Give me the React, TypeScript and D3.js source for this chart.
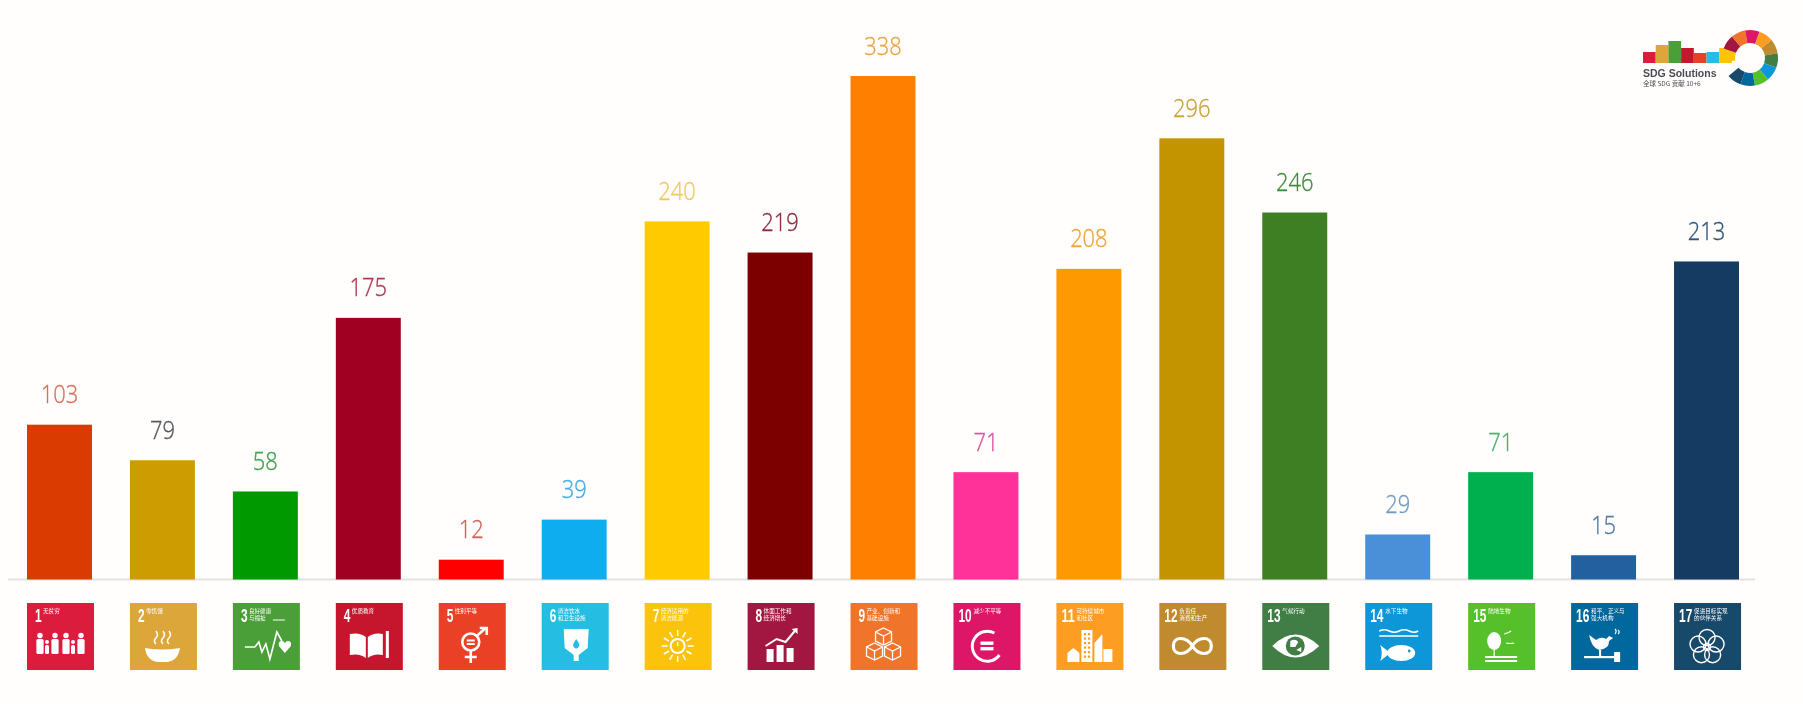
import React from 'react';
import * as d3 from 'd3';

const goals = d3.range(1, 18);
const counts = [103, 79, 58, 175, 12, 39, 240, 219, 338, 71, 208, 296, 246, 29, 71, 15, 213];
const barColors = ['#d93a00', '#cc9c00', '#009a00', '#a00020', '#ff0000', '#0eadef', '#ffcb00', '#7b0000', '#ff8000', '#ff3399', '#ff9900', '#c49300', '#3e7f23', '#4a90d9', '#00b050', '#2260a0', '#163a63'];
const labelColors = ['#d9705c', '#55585c', '#3ea34a', '#a83a50', '#d9605a', '#45ade2', '#f2c766', '#8a2e40', '#eca545', '#d9559f', '#eca53a', '#c9a238', '#3f8a3c', '#6f9cc4', '#45b368', '#5578a4', '#2f5578'];
const iconColors = ['#dc1f3c', '#dda63a', '#4c9f38', '#c5192d', '#ea4127', '#26bde2', '#fcc30b', '#a21942', '#f0742b', '#dd1367', '#fd9d24', '#bf8b2e', '#3f7e44', '#0a97d9', '#56c02b', '#00689d', '#19486a'];
const iconTitles = [
  ['无贫穷'], ['零饥饿'], ['良好健康', '与福祉'], ['优质教育'], ['性别平等'],
  ['清洁饮水', '和卫生设施'], ['经济适用的', '清洁能源'], ['体面工作和', '经济增长'], ['产业、创新和', '基础设施'],
  ['减少不平等'], ['可持续城市', '和社区'], ['负责任', '消费和生产'], ['气候行动'], ['水下生物'], ['陆地生物'],
  ['和平、正义与', '强大机构'], ['促进目标实现', '的伙伴关系'],
];
const logoBarGoals = [0, 1, 2, 3, 4, 5, 6];
const logoBarHeights = [11, 18, 22, 15, 10, 11, 15];
const logoRingGoals = [6, 7, 8, 9, 10, 11, 12, 13, 14, 15, 16];

const WIDTH = 1803;
const HEIGHT = 704;
const BASELINE = 579.5;
const ICON_Y = 603;
const ICON_SIZE = 67;

const x = d3.scaleBand<number>().domain(goals).range([27, 1739]).paddingInner(0.369);
const y = d3.scaleLinear().domain([0, 338]).range([577.5, 76]);

const people = [
  [13, 0], [20, 1], [28, 0], [39, 0], [46, 1], [54, 0],
];

const cube = (cx: number, cy: number, fill: string) => (
  <g stroke="#fff" strokeWidth={1.3} fill={fill}>
    <path d={`M${cx},${cy - 8} L${cx + 8},${cy - 4} V${cy + 5} L${cx},${cy + 9} L${cx - 8},${cy + 5} V${cy - 4} Z`} />
    <path d={`M${cx - 8},${cy - 4} L${cx},${cy} L${cx + 8},${cy - 4} M${cx},${cy} V${cy + 9}`} fill="none" />
  </g>
);

// white pictograms on the goal squares, local 67px box
const glyph = (i: number, c: string) => {
  switch (i) {
    case 0:
      return (
        <g fill="#fff">
          {people.map(([px, kid], k) => (
            <g key={k}>
              <circle cx={px} cy={kid ? 39 : 32.5} r={kid ? 2 : 2.7} />
              <rect x={px - (kid ? 2 : 3.6)} y={kid ? 42 : 36} width={kid ? 4 : 7.2} height={kid ? 9 : 15} rx={1.5} />
            </g>
          ))}
        </g>
      );
    case 1:
      return (
        <g>
          <path d="M15,45 Q32,48 50,45 Q48,58 37,59 H28 Q17,58 15,45 Z" fill="#fff" />
          {[26, 33, 39].map((sx) => (
            <path key={sx} d={`M${sx},41 q-3,-3 0,-6 q3,-3 0,-7`} fill="none" stroke="#fff" strokeWidth={1.5} />
          ))}
        </g>
      );
    case 2:
      return (
        <g>
          <path d="M12,44 H22 L26,39 L29,49 L33,41 L37,56 L44,29 L49,38" fill="none" stroke="#fff" strokeWidth={1.6} />
          <path d="M52,50 L46,43 Q45,38 49,38 Q51,38 52,40 Q53,38 55,38 Q59,38 58,43 Z" fill="#fff" />
          <path d="M40,17 H52" stroke="#fff" strokeWidth={1} />
        </g>
      );
    case 3:
      return (
        <g fill="#fff">
          <path d="M14,31 Q24,29 30,34 V55 Q24,50 14,52 Z" />
          <path d="M32,34 Q38,29 47,31 V52 Q38,50 32,55 Z" />
          <rect x={50} y={28} width={3} height={27} />
        </g>
      );
    case 4:
      return (
        <g stroke="#fff" fill="none" strokeWidth={2.6}>
          <circle cx={32} cy={39} r={8.5} />
          <path d="M38,33 L47,25 M41,25 H48 V32 M32,47 V60 M26,54 H38" />
          <path d="M28,37.5 H36 M28,41 H36" strokeWidth={1.8} />
        </g>
      );
    case 5:
      return (
        <g>
          <path d="M22,26 H47 L46,45 L37,52 V58 H32 V52 L23,45 Z" fill="#fff" />
          <path d="M34.5,36 Q39,42 37,44 Q34.5,47 32,44 Q30,42 34.5,36 Z" fill={c} />
        </g>
      );
    case 6:
      return (
        <g stroke="#fff" fill="none">
          <circle cx={33} cy={43} r={7} strokeWidth={2} />
          <path d="M33,39 V43" strokeWidth={1.6} />
          {d3.range(12).map((k) => {
            const a = (k / 12) * 2 * Math.PI;
            return (
              <line key={k} x1={33 + 10 * Math.cos(a)} y1={43 + 10 * Math.sin(a)} x2={33 + 16 * Math.cos(a)} y2={43 + 16 * Math.sin(a)} strokeWidth={1.5} />
            );
          })}
        </g>
      );
    case 7:
      return (
        <g>
          <path d="M19,46 H26 V59 H19 Z M29,42 H36 V59 H29 Z M39,45 H46 V59 H39 Z" fill="#fff" />
          <path d="M18,43 L29,36 L38,39 L48,27" fill="none" stroke="#fff" strokeWidth={2} />
          <path d="M44,26 L50,25 V31 Z" fill="#fff" />
        </g>
      );
    case 8:
      return (
        <g>
          {cube(33, 33, c)}
          {cube(24, 48, c)}
          {cube(42, 48, c)}
        </g>
      );
    case 9:
      return (
        <g>
          <path d="M41,30 A15,15 0 1 0 46,52" fill="none" stroke="#fff" strokeWidth={3} />
          <rect x={27} y={38.5} width={13} height={3.4} fill="#fff" />
          <rect x={27} y={44} width={13} height={3.4} fill="#fff" />
        </g>
      );
    case 10:
      return (
        <g fill="#fff">
          <rect x={25} y={27} width={11} height={32} />
          <path d="M11,59 V50 L17,45 L23,50 V59 Z" />
          <path d="M38,59 V40 L46,31 V59 Z" />
          <rect x={47} y={46} width={9} height={13} />
          {d3.range(6).map((k) => (
            <g key={k} fill={c}>
              <rect x={27.5} y={30 + k * 4.5} width={2.2} height={2.2} />
              <rect x={31.5} y={30 + k * 4.5} width={2.2} height={2.2} />
            </g>
          ))}
        </g>
      );
    case 11:
      return <path d="M33,43 C27,33 14,33 14,43 C14,53 27,53 33,43 C39,33 52,33 52,43 C52,53 39,53 33,43 Z" fill="none" stroke="#fff" strokeWidth={3.2} />;
    case 12:
      return (
        <g>
          <path d="M10,43 Q33,20 57,43 Q33,66 10,43 Z" fill="#fff" />
          <circle cx={33} cy={43} r={9.5} fill={c} />
          <path d="M28,38 Q33,35 36,39 L33,44 L28,44 Z M34,47 L39,44 L39,49 Z" fill="#fff" />
        </g>
      );
    case 13:
      return (
        <g>
          <path d="M14,28 q5,-2.5 10,0 t10,0 t10,0 t9,0 M14,33 H53" fill="none" stroke="#fff" strokeWidth={1.6} />
          <ellipse cx={36} cy={50} rx={14} ry={8} fill="#fff" />
          <path d="M15,42 L25,50 L15,58 Q18,50 15,42 Z" fill="#fff" />
          <circle cx={44} cy={48} r={1.4} fill={c} />
        </g>
      );
    case 14:
      return (
        <g>
          <ellipse cx={26} cy={38} rx={7} ry={9} fill="#fff" />
          <path d="M26,44 V53" stroke="#fff" strokeWidth={1.2} />
          <path d="M17,54 H49 M17,58 H49" stroke="#fff" strokeWidth={1.8} />
          <path d="M36,31 q4,-1 7,-3 M38,40 q4,1 8,0" fill="none" stroke="#fff" strokeWidth={1.2} />
        </g>
      );
    case 15:
      return (
        <g fill="#fff">
          <path d="M18,32 L25,37 Q30,33 35,36 L38,33 L42,35 L38,38 Q38,46 28,47 Q20,44 18,32 Z" />
          <path d="M44,26 q2,2 0,5 M47,27 q2,2 0,4" fill="none" stroke="#fff" strokeWidth={1.2} />
          <rect x={13} y={53} width={30} height={2.2} />
          <rect x={28} y={47} width={2} height={6} />
          <rect x={43} y={49} width={6} height={10} />
        </g>
      );
    default:
      return (
        <g fill="none" stroke="#fff" strokeWidth={1.4}>
          {d3.range(5).map((k) => {
            const a = (k / 5) * 2 * Math.PI - Math.PI / 2;
            return <circle key={k} cx={33 + 9.5 * Math.cos(a)} cy={44 + 9.5 * Math.sin(a)} r={8} />;
          })}
          <circle cx={33} cy={44} r={3.5} />
        </g>
      );
  }
};

const logoRing = d3
  .pie<number>()
  .value(1)
  .sort(null)
  .startAngle((-100 * Math.PI) / 180)
  .endAngle((230 * Math.PI) / 180)
  .padAngle(0)(logoRingGoals);
const logoArc = d3.arc<d3.PieArcDatum<number>>().innerRadius(15).outerRadius(28);

const App: React.FC = () => {
  return (
    <svg width={WIDTH} height={HEIGHT} style={{ position: 'absolute', left: 0, top: 0 }}>
      <defs>
        <filter id="soft" x="-5%" y="-5%" width="110%" height="110%">
          <feGaussianBlur stdDeviation={0.55} />
        </filter>
      </defs>
      <rect width={WIDTH} height={HEIGHT} fill="#fffefc" />

      <line x1={8} x2={1755} y1={BASELINE} y2={BASELINE} stroke="#e2e2e0" strokeWidth={2} />

      <g filter="url(#soft)">
        {goals.map((g, i) => (
          <rect key={g} x={x(g)} y={y(counts[i])} width={x.bandwidth()} height={BASELINE - y(counts[i])} fill={barColors[i]} />
        ))}
      </g>

      <g filter="url(#soft)" fontFamily="'Open Sans', 'Noto Sans', sans-serif" fontWeight={300} fontSize={26} textAnchor="middle">
        {goals.map((g, i) => (
          <text
            key={g}
            x={(x(g) as number) + x.bandwidth() / 2}
            y={y(counts[i]) - 21.5}
            fill={labelColors[i]}
            stroke={labelColors[i]}
            strokeWidth={0.35}
            textLength={String(counts[i]).length * 12.5}
            lengthAdjust="spacingAndGlyphs"
          >
            {counts[i]}
          </text>
        ))}
      </g>

      <g filter="url(#soft)">
        {goals.map((g, i) => (
          <g key={g} transform={`translate(${x(g)},${ICON_Y})`}>
            <rect width={ICON_SIZE} height={ICON_SIZE} fill={iconColors[i]} />
            <text
              x={g > 9 ? 5 : 8}
              y={18.5}
              fill="#fff"
              fontFamily="'Liberation Sans', sans-serif"
              fontWeight={700}
              fontSize={18}
              textLength={String(g).length * 6.6}
              lengthAdjust="spacingAndGlyphs"
            >
              {g}
            </text>
            {iconTitles[i].map((t, k) => (
              <text key={k} x={g > 9 ? 20 : 16} y={9.5 + k * 7} fill="#fff" fontFamily="'Noto Sans CJK SC', sans-serif" fontSize={5.6}>
                {t}
              </text>
            ))}
            {glyph(i, iconColors[i])}
          </g>
        ))}
      </g>

      <g filter="url(#soft)">
        {logoBarGoals.map((g, k) => (
          <rect key={g} x={1643 + k * 12.7} y={63 - logoBarHeights[k]} width={12.7} height={logoBarHeights[k]} fill={iconColors[g]} />
        ))}
        <g transform="translate(1750,58)">
          {logoRing.map((d) => (
            <path key={d.data} d={logoArc(d) as string} fill={iconColors[d.data]} />
          ))}
        </g>
        <text x={1643} y={77} fontFamily="'Liberation Sans', sans-serif" fontWeight={700} fontSize={10.5} fill="#4a4a52">
          SDG Solutions
        </text>
        <text x={1643} y={86} fontFamily="'Noto Sans CJK SC', sans-serif" fontSize={6.5} fill="#4a4a52">
          全球 SDG 贡献 10+6
        </text>
      </g>
    </svg>
  );
};

export default App;
